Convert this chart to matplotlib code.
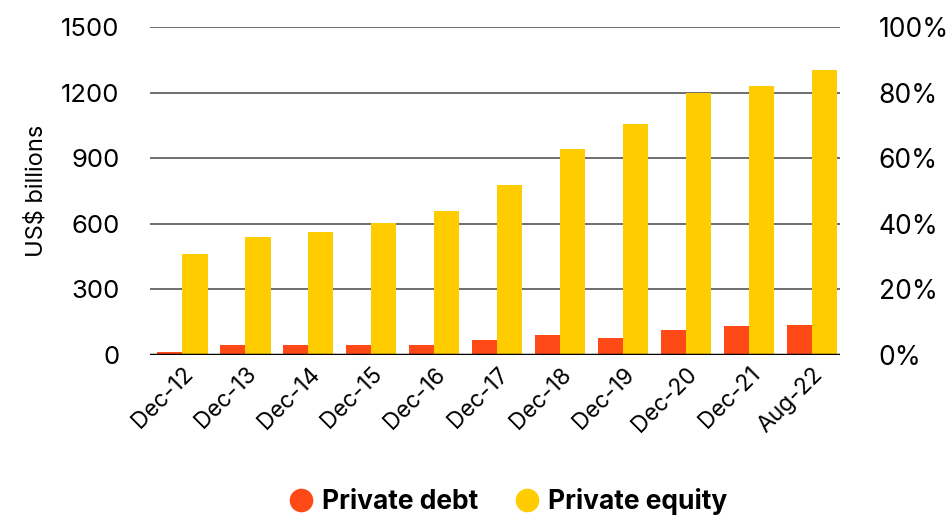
import matplotlib.pyplot as plt
import numpy as np

plt.rcParams['font.family'] = ['Inter', 'DejaVu Sans']

labels = ["Dec-12", "Dec-13", "Dec-14", "Dec-15", "Dec-16", "Dec-17",
          "Dec-18", "Dec-19", "Dec-20", "Dec-21", "Aug-22"]
private_debt = [14, 46, 43, 43, 44, 69, 92, 78, 115, 133, 137]
private_equity = [459, 541, 560, 601, 660, 775, 940, 1055, 1200, 1229, 1303]

debt_color = "#FF4A17"
equity_color = "#FFCC00"

fig = plt.figure(figsize=(9.51, 5.18), dpi=100)
ax = fig.add_axes([0.158, 0.315, 0.725, 0.633])

x = np.arange(len(labels))
w = 0.4
ax.bar(x - w / 2, private_debt, w, color=debt_color, zorder=3)
ax.bar(x + w / 2, private_equity, w, color=equity_color, zorder=3)

ax.set_ylim(0, 1500)
ax.set_xlim(-0.51, 10.44)
ax.set_yticks([0, 300, 600, 900, 1200, 1500])
ax.grid(axis='y', color='#555555', linewidth=1.2, zorder=0)
ax.axhline(0, color='black', linewidth=2.5, zorder=4)
for s in ax.spines.values():
    s.set_visible(False)
ax.tick_params(axis='y', length=0, labelsize=18.5, pad=22)
ax.tick_params(axis='x', length=0, labelsize=16.5, pad=6)
ax.set_xticks(x)
ax.set_xticklabels(labels, rotation=45, ha='right', rotation_mode='anchor')
ax.set_ylabel("US$ billions", fontsize=17, labelpad=10)

ax2 = ax.twinx()
ax2.set_ylim(0, 100)
ax2.set_yticks([0, 20, 40, 60, 80, 100])
ax2.set_yticklabels([f"{v}%" for v in [0, 20, 40, 60, 80, 100]])
ax2.tick_params(axis='y', length=0, labelsize=19, pad=28)
for s in ax2.spines.values():
    s.set_visible(False)

h1 = plt.Line2D([], [], marker='o', linestyle='none', markersize=16, color=debt_color)
h2 = plt.Line2D([], [], marker='o', linestyle='none', markersize=16, color=equity_color)
fig.legend([h1, h2], ["Private debt", "Private equity"], loc='lower center',
           bbox_to_anchor=(0.53, -0.04), ncol=2, frameon=False,
           prop={'size': 19, 'weight': 'bold'}, handletextpad=0.05,
           columnspacing=1.1, handlelength=1.5)

fig.savefig("out.png", dpi=100)
